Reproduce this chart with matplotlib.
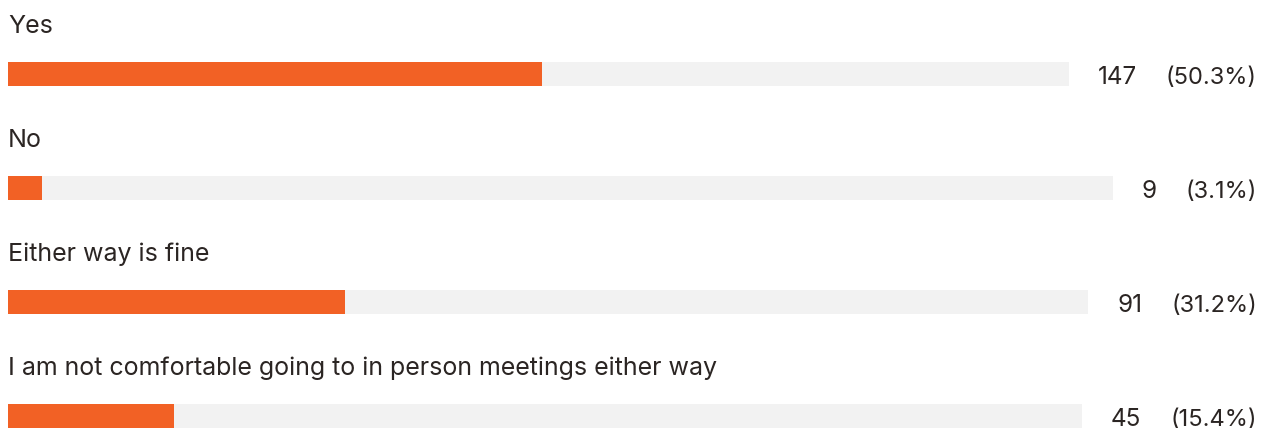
import matplotlib.pyplot as plt

# answers and counts
labels = ["Yes", "No", "Either way is fine",
          "I am not comfortable going to in person meetings either way"]
counts = [147, 9, 91, 45]
total = sum(counts)
pcts = [c / total * 100 for c in counts]

W, H = 1267, 428
orange = "#f26125"
track = "#f2f2f2"
ink = "#2b2523"
plt.rcParams['font.family'] = ['Inter', 'DejaVu Sans']

fig = plt.figure(figsize=(W / 100, H / 100), dpi=100)
ax = fig.add_axes([0, 0, 1, 1])
ax.set_xlim(0, W)
ax.set_ylim(H, 0)
ax.axis("off")

fig.canvas.draw()
r = fig.canvas.get_renderer()
inv = ax.transData.inverted()

left = 8
pitch = 114
for i, (lab, c, p) in enumerate(zip(labels, counts, pcts)):
    y0 = i * pitch
    ax.text(left, y0 + 33, lab, fontsize=18, color=ink, va="baseline")
    # percent at the right edge, then the count, then the grey track fills the rest
    tp = ax.text(1257, y0 + 84, "(%.1f%%)" % p, fontsize=17, color=ink,
                 ha="right", va="baseline")
    x_pct = inv.transform(tp.get_window_extent(r))[0][0]
    tc = ax.text(x_pct - 29, y0 + 84, str(c), fontsize=17.5, color=ink,
                 ha="right", va="baseline")
    x_cnt = inv.transform(tc.get_window_extent(r))[0][0]
    tlen = x_cnt - 29 - left
    ax.barh(y0 + 74, tlen, height=24, left=left, color=track)
    ax.barh(y0 + 74, tlen * p / 100, height=24, left=left, color=orange)

fig.savefig("out.png", dpi=100)
